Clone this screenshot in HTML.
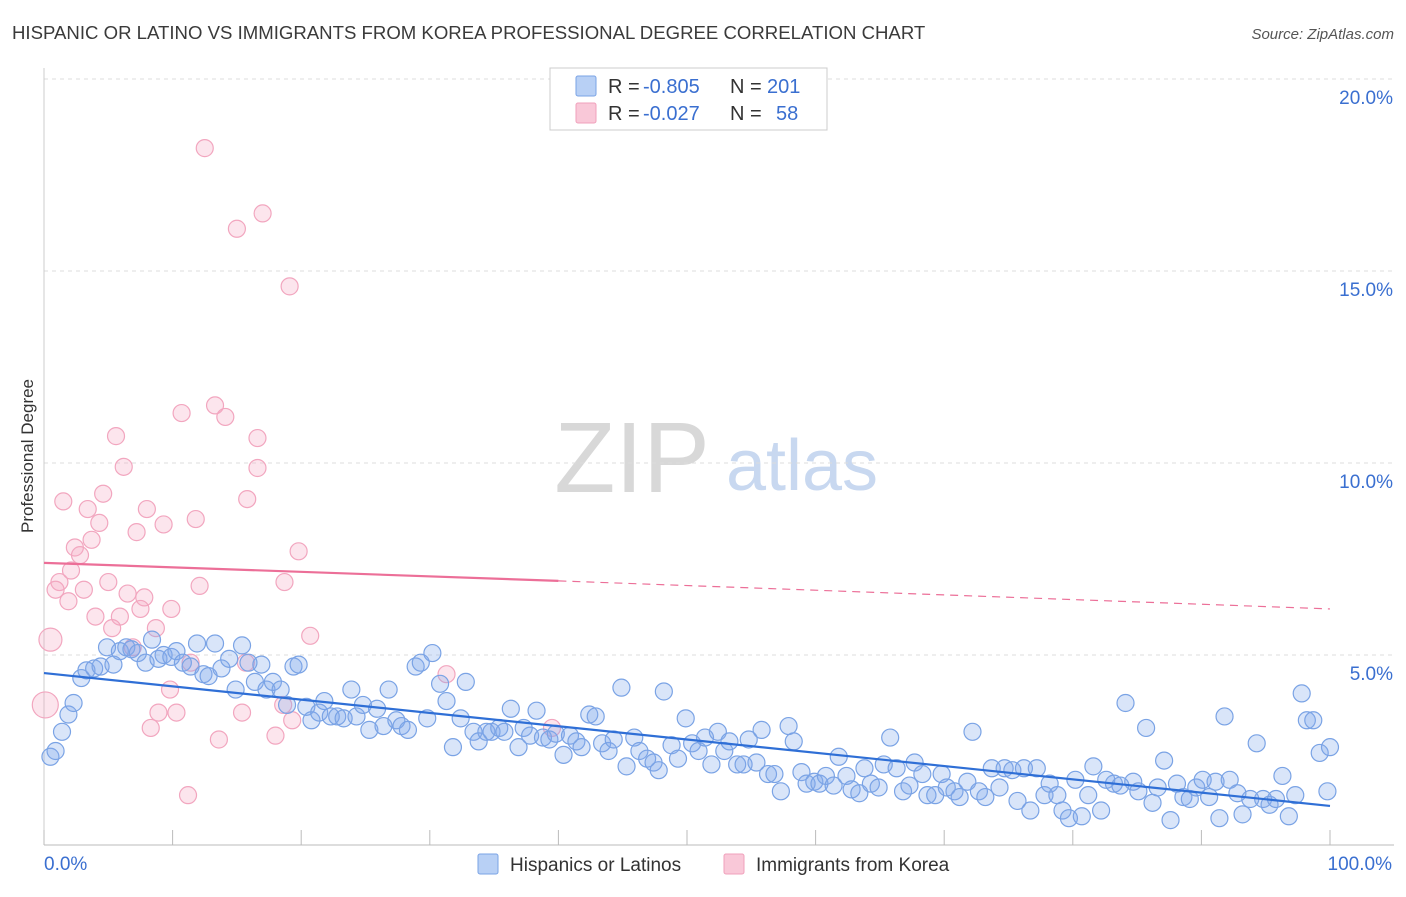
<!DOCTYPE html>
<html><head><meta charset="utf-8"><style>
body{margin:0;background:#fff;font-family:"Liberation Sans",sans-serif;}
svg text{font-family:"Liberation Sans",sans-serif;}
</style></head><body>
<svg id="chart" width="1406" height="892" xmlns="http://www.w3.org/2000/svg">
<text x="12" y="39" font-size="18.6" fill="#3a3a3a">HISPANIC OR LATINO VS IMMIGRANTS FROM KOREA PROFESSIONAL DEGREE CORRELATION CHART</text>
<text x="1394" y="39" font-size="15" fill="#555" text-anchor="end" font-style="italic">Source: ZipAtlas.com</text>
<text transform="translate(33,456) rotate(-90)" font-size="17" fill="#333" text-anchor="middle">Professional Degree</text>
<g>
<text x="632" y="492" font-size="100" fill="#d8d8d8" font-family="Liberation Serif,serif" text-anchor="middle">ZIP</text>
<text x="802" y="490" font-size="72" fill="#c8d8f0" text-anchor="middle">atlas</text>
</g>
<g id="grid"></g><g id="axes"></g><g id="pink"></g><g id="blue"></g><g id="lines"></g>
<g>
<rect x="550" y="68" width="277" height="62" fill="#fff" stroke="#ccc"/>
<rect x="576" y="76" width="20" height="20" fill="#b8d0f5" stroke="#7aa3e5" rx="2"/>
<text x="608" y="93" font-size="20" fill="#333">R =</text><text x="643" y="93" font-size="20" fill="#3a6fd0">-0.805</text>
<text x="730" y="93" font-size="20" fill="#333">N =</text><text x="767" y="93" font-size="20" fill="#3a6fd0">201</text>
<rect x="576" y="103" width="20" height="20" fill="#f9c8d8" stroke="#f0a0bb" rx="2"/>
<text x="608" y="120" font-size="20" fill="#333">R =</text><text x="643" y="120" font-size="20" fill="#3a6fd0">-0.027</text>
<text x="730" y="120" font-size="20" fill="#333">N =</text><text x="776" y="120" font-size="20" fill="#3a6fd0">58</text>
</g>
<g>
<rect x="478" y="854" width="20" height="20" fill="#b8d0f5" stroke="#7aa3e5" rx="2"/>
<text x="510" y="871" font-size="19" fill="#333">Hispanics or Latinos</text>
<rect x="724" y="854" width="20" height="20" fill="#f9c8d8" stroke="#f0a0bb" rx="2"/>
<text x="756" y="871" font-size="19" fill="#333">Immigrants from Korea</text>
</g>
</svg>
<script>
const yTicks=[5,10,15,20];
const yTickLabels=["5.0%","10.0%","15.0%","20.0%"];
const xTickLabels=["0.0%","100.0%"];
const blueX=[0.5,0.9,1.4,1.9,2.3,2.9,3.3,3.9,4.4,4.9,5.4,5.9,6.4,6.8,7.3,7.9,8.4,8.9,9.3,9.9,10.3,10.8,11.4,11.9,12.4,12.8,13.3,13.8,14.4,14.9,15.4,15.9,16.4,16.9,17.3,17.8,18.4,18.9,19.4,19.8,20.4,20.8,21.4,21.8,22.3,22.8,23.3,23.9,24.3,24.8,25.3,25.9,26.4,26.8,27.4,27.8,28.3,28.9,29.3,29.8,30.2,30.8,31.3,31.8,32.4,32.8,33.4,33.8,34.4,34.8,35.4,35.8,36.3,36.9,37.3,37.8,38.3,38.8,39.3,39.8,40.4,40.9,41.4,41.8,42.4,42.9,43.4,43.9,44.3,44.9,45.3,45.9,46.3,46.9,47.4,47.8,48.2,48.8,49.3,49.9,50.4,50.9,51.4,51.9,52.4,52.9,53.3,53.9,54.4,54.8,55.4,55.8,56.3,56.8,57.3,57.9,58.3,58.9,59.3,59.9,60.3,60.8,61.4,61.8,62.4,62.8,63.4,63.8,64.3,64.9,65.3,65.8,66.3,66.8,67.3,67.7,68.3,68.7,69.3,69.8,70.2,70.8,71.2,71.8,72.2,72.7,73.2,73.7,74.3,74.7,75.3,75.7,76.2,76.7,77.2,77.8,78.2,78.8,79.2,79.7,80.2,80.7,81.2,81.6,82.2,82.6,83.2,83.7,84.1,84.7,85.1,85.7,86.2,86.6,87.1,87.6,88.1,88.6,89.1,89.6,90.1,90.6,91.1,91.4,91.8,92.2,92.8,93.2,93.8,94.3,94.8,95.3,95.8,96.3,96.8,97.3,97.8,98.2,98.7,99.2,99.8,100];
const blueY=[2.35,2.5,3.0,3.45,3.75,4.4,4.6,4.65,4.7,5.2,4.75,5.1,5.2,5.15,5.05,4.8,5.4,4.9,5.0,4.95,5.1,4.8,4.7,5.3,4.5,4.45,5.3,4.65,4.9,4.1,5.25,4.8,4.3,4.75,4.1,4.3,4.1,3.7,4.7,4.75,3.65,3.3,3.5,3.8,3.4,3.4,3.35,4.1,3.4,3.7,3.05,3.6,3.15,4.1,3.3,3.15,3.05,4.7,4.8,3.35,5.05,4.25,3.8,2.6,3.35,4.3,3.0,2.75,3.0,3.0,3.1,3.0,3.6,2.6,3.1,2.9,3.55,2.85,2.8,2.95,2.4,2.9,2.75,2.6,3.45,3.4,2.7,2.5,2.8,4.15,2.1,2.85,2.5,2.3,2.2,2.0,4.05,2.65,2.3,3.35,2.7,2.5,2.85,2.15,3.0,2.5,2.75,2.15,2.15,2.8,2.2,3.05,1.9,1.9,1.45,3.15,2.75,1.95,1.65,1.7,1.65,1.85,1.6,2.35,1.85,1.5,1.4,2.05,1.65,1.55,2.15,2.85,2.05,1.45,1.6,2.2,1.9,1.35,1.35,1.9,1.55,1.45,1.3,1.7,3.0,1.45,1.3,2.05,1.55,2.05,2.0,1.2,2.05,0.95,2.05,1.35,1.65,1.35,0.95,0.75,1.75,0.8,1.35,2.1,0.95,1.75,1.65,1.6,3.75,1.7,1.45,3.1,1.15,1.55,2.25,0.7,1.65,1.3,1.25,1.55,1.75,1.3,1.7,0.75,3.4,1.75,1.4,0.85,1.25,2.7,1.25,1.1,1.25,1.85,0.8,1.35,4.0,3.3,3.3,2.45,1.45,2.6];
const pinkX=[12.5,17.0,15.0,19.1,10.7,13.3,14.1,5.6,16.6,6.2,16.6,1.5,4.6,15.8,3.4,8.0,4.3,9.3,11.8,7.2,3.7,2.4,2.8,19.8,2.1,1.2,5.0,12.1,18.7,0.9,3.1,7.8,1.9,6.5,7.5,9.9,4.0,5.9,5.3,8.7,0.5,20.7,6.9,11.4,15.7,31.3,9.8,0.1,18.6,8.9,10.3,15.4,19.3,8.3,39.5,13.6,18.0,11.2];
const pinkY=[18.2,16.5,16.1,14.6,11.3,11.5,11.2,10.7,10.65,9.9,9.87,9.0,9.2,9.06,8.8,8.8,8.44,8.4,8.54,8.2,8.0,7.8,7.6,7.7,7.2,6.9,6.9,6.8,6.9,6.7,6.7,6.5,6.4,6.6,6.2,6.2,6.0,6.0,5.7,5.7,5.4,5.5,5.2,4.8,4.8,4.5,4.1,3.7,3.7,3.5,3.5,3.5,3.3,3.1,3.1,2.8,2.9,1.35];
const blueTrend=[4.53,1.07];
const pinkTrend=[7.4,6.93,6.2];
const NS="http://www.w3.org/2000/svg";
const X0=44,X1=1330,Y0=847,PPY=38.4;
const sx=v=>X0+(X1-X0)*v/100, sy=v=>Y0-v*PPY;
function mk(t,p,a){const e=document.createElementNS(NS,t);for(const k in a)e.setAttribute(k,a[k]);p.appendChild(e);return e;}
const grid=document.getElementById('grid'),axes=document.getElementById('axes');
yTicks.forEach((t,i)=>{
 const l=mk('line',grid,{x1:X0,x2:1394,y1:sy(t),y2:sy(t),stroke:'#ddd','stroke-dasharray':'4,4'});
 
 
 const tx=mk('text',axes,{x:1393,y:sy(t)+25,'font-size':19,fill:'#3a6fd0','text-anchor':'end'});
 tx.textContent=yTickLabels[i];
 
 
});
const tl=mk('line',grid,{x1:X0,x2:1394,y1:79,y2:79,stroke:'#ddd','stroke-dasharray':'4,4'});


const ya=mk('line',axes,{x1:X0,x2:X0,y1:68,y2:845,stroke:'#ccc'});


const xa=mk('line',axes,{x1:X0,x2:1394,y1:845,y2:845,stroke:'#bbb'});


for(let i=0;i<=10;i++){const t=mk('line',axes,{x1:sx(i*10),x2:sx(i*10),y1:830,y2:845,stroke:'#bbb'});
 
 }
[[0,'start'],[100,'end']].forEach((d,i)=>{const t=mk('text',axes,{x:sx(d[0])+(i?62:0),y:870,'font-size':19,fill:'#3a6fd0','text-anchor':i?'end':'start'});t.textContent=xTickLabels[i];
 
 });
const pg=document.getElementById('pink');
pinkX.forEach((x,i)=>{const big=(x<0.6&&pinkY[i]<6);const c=mk('circle',pg,{cx:sx(x),cy:sy(pinkY[i]),r:big?(pinkY[i]<4?13:11.5):8.5,fill:'rgba(245,170,195,0.3)',stroke:'#f2a6bf','stroke-width':1.2});
 
 });
const bg=document.getElementById('blue');
blueX.forEach((x,i)=>{const c=mk('circle',bg,{cx:sx(x),cy:sy(blueY[i]),r:8.5,fill:'rgba(130,170,235,0.3)',stroke:'#7aa3e5','stroke-width':1.2});
 
 });
const lg=document.getElementById('lines');
const bl=mk('line',lg,{x1:sx(0),y1:sy(blueTrend[0]),x2:sx(100),y2:sy(blueTrend[1]),stroke:'#2f6fd6','stroke-width':2.2});


const pl=mk('line',lg,{x1:sx(0),y1:sy(pinkTrend[0]),x2:sx(40),y2:sy(pinkTrend[1]),stroke:'#ec6f98','stroke-width':2.2});


const pd=mk('line',lg,{x1:sx(40),y1:sy(pinkTrend[1]),x2:sx(100),y2:sy(pinkTrend[2]),stroke:'#ec6f98','stroke-width':1.2,'stroke-dasharray':'8,6'});


</script>
</body></html>
